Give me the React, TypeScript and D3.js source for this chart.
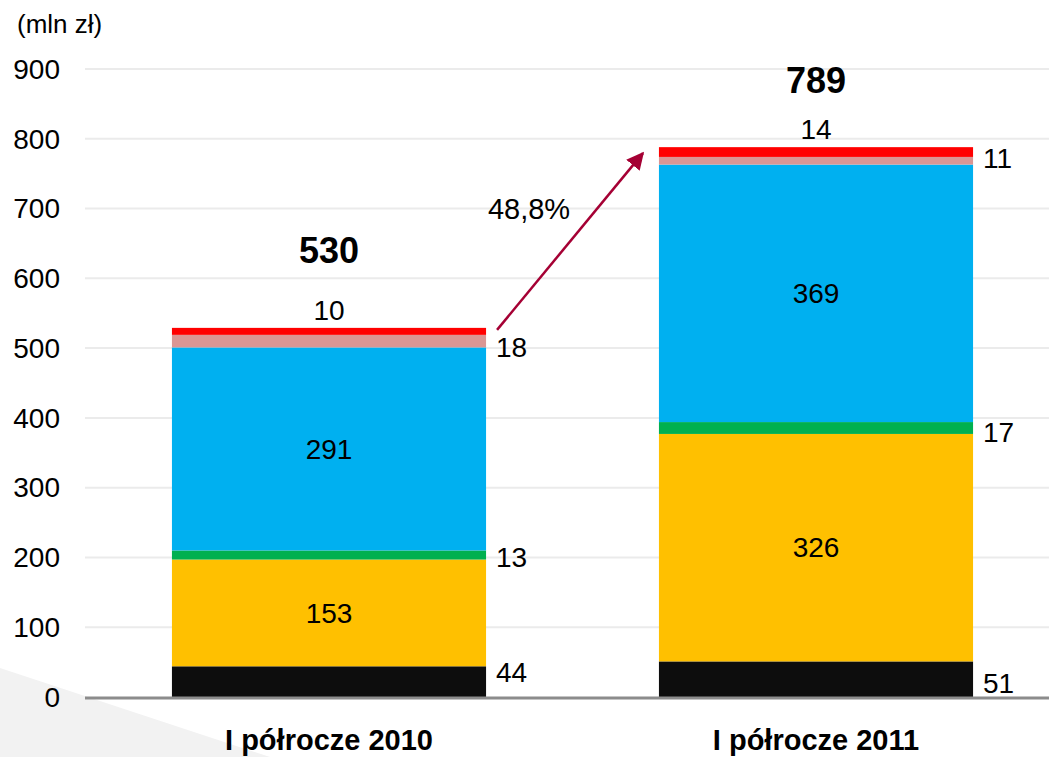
import React, { useEffect, useRef } from 'react';
import * as d3 from 'd3';

// half-year categories and their stacked components (mln zł)
const categories = ['I półrocze 2010', 'I półrocze 2011'];
const segmentKeys = ['black', 'yellow', 'green', 'blue', 'pink', 'red'];
const values2010 = [44, 153, 13, 291, 18, 10];
const values2011 = [51, 326, 17, 369, 11, 14];
const totals = [530, 789];
const yTicks = [0, 100, 200, 300, 400, 500, 600, 700, 800, 900];
const growthLabel = '48,8%';
const unitLabel = '(mln zł)';

const segmentColors = ['#0d0d0d', '#ffc000', '#00b050', '#00b0f0', '#da9694', '#ff0000'];
// where each segment's value label goes
const labelMode = ['right', 'inside', 'right', 'inside', 'right', 'top'];
// small vertical nudges (px) to match the hand-placed labels
const labelNudge = [
  [-9, 0, 2, 0, 6, 0],
  [4, 0, 4, 0, -3, 0],
];
const totalGap = [65, 54];

const W = 1049;
const H = 757;
const FONT = '"Liberation Sans", Arial, sans-serif';

const App: React.FC = () => {
  const svgRef = useRef<SVGSVGElement>(null);

  useEffect(() => {
    if (!svgRef.current) return;
    const svg = d3.select(svgRef.current);
    svg.selectAll('*').remove();

    const series = [values2010, values2011];

    const x = d3.scaleBand<string>().domain(categories).range([85.5, 1059.5])
      .paddingInner(0.355).paddingOuter(0.1775);
    const y = d3.scaleLinear().domain([0, 900]).range([697, 69]);

    svg.append('rect').attr('width', W).attr('height', H).attr('fill', '#ffffff');

    // decorative grey wedge bottom-left
    svg.append('path')
      .attr('d', 'M0,668 L270,757 L0,757 Z')
      .attr('fill', '#f2f2f2');

    // gridlines
    svg.append('g').selectAll('line')
      .data(yTicks.filter(t => t > 0))
      .join('line')
      .attr('x1', 85).attr('x2', W)
      .attr('y1', d => y(d)).attr('y2', d => y(d))
      .attr('stroke', '#ebebeb').attr('stroke-width', 2);

    // tick labels
    svg.append('g').selectAll('text')
      .data(yTicks)
      .join('text')
      .attr('x', 60)
      .attr('y', d => y(d))
      .attr('dy', '0.35em')
      .attr('text-anchor', 'end')
      .attr('font-family', FONT)
      .attr('font-size', 28)
      .attr('fill', '#000')
      .text(d => d);

    svg.append('text')
      .attr('x', 17).attr('y', 33)
      .attr('font-family', FONT).attr('font-size', 26)
      .text(unitLabel);

    // stacked bars
    categories.forEach((cat, ci) => {
      const vals = series[ci];
      const x0 = x(cat)!;
      const bw = x.bandwidth();
      let cum = 0;
      vals.forEach((v, si) => {
        const lo = cum;
        const hi = cum + v;
        cum = hi;
        svg.append('rect')
          .attr('x', x0).attr('width', bw)
          .attr('y', y(hi)).attr('height', y(lo) - y(hi))
          .attr('fill', segmentColors[si])
          .attr('data-key', segmentKeys[si]);

        const mid = y((lo + hi) / 2) + labelNudge[ci][si];
        const t = svg.append('text')
          .attr('font-family', FONT).attr('font-size', 28).attr('fill', '#000')
          .text(v);
        if (labelMode[si] === 'inside') {
          t.attr('x', x0 + bw / 2).attr('y', mid).attr('dy', '0.35em').attr('text-anchor', 'middle');
        } else if (labelMode[si] === 'right') {
          t.attr('x', x0 + bw + 10).attr('y', mid).attr('dy', '0.35em').attr('text-anchor', 'start');
        } else {
          t.attr('x', x0 + bw / 2).attr('y', y(hi) - 8).attr('text-anchor', 'middle');
        }
      });

      // bold total above the bar
      svg.append('text')
        .attr('x', x0 + bw / 2).attr('y', y(cum) - totalGap[ci])
        .attr('text-anchor', 'middle')
        .attr('font-family', FONT).attr('font-size', 36).attr('font-weight', 'bold')
        .text(totals[ci]);

      // category label
      svg.append('text')
        .attr('x', x0 + bw / 2).attr('y', 750)
        .attr('text-anchor', 'middle')
        .attr('font-family', FONT).attr('font-size', 29).attr('font-weight', 'bold')
        .text(cat);
    });

    // axis baseline
    svg.append('line')
      .attr('x1', 85).attr('x2', W)
      .attr('y1', y(0) + 1).attr('y2', y(0) + 1)
      .attr('stroke', '#8c8c8c').attr('stroke-width', 3);

    // growth arrow
    const sum0 = d3.sum(values2010);
    const sum1 = d3.sum(values2011);
    const ax1 = x(categories[0])! + x.bandwidth() + 11;
    const ay1 = y(sum0) + 2;
    const ax2 = x(categories[1])! - 16;
    const ay2 = y(sum1) + 6;
    svg.append('defs').append('marker')
      .attr('id', 'arrowHead')
      .attr('viewBox', '0 0 10 10')
      .attr('refX', 9).attr('refY', 5)
      .attr('markerWidth', 7).attr('markerHeight', 7)
      .attr('markerUnits', 'strokeWidth')
      .attr('orient', 'auto')
      .append('path').attr('d', 'M0,0 L10,5 L0,10 Z').attr('fill', '#a50034');
    svg.append('line')
      .attr('x1', ax1).attr('y1', ay1).attr('x2', ax2).attr('y2', ay2)
      .attr('stroke', '#a50034').attr('stroke-width', 2.5)
      .attr('marker-end', 'url(#arrowHead)');

    svg.append('text')
      .attr('x', 529).attr('y', 219)
      .attr('text-anchor', 'middle')
      .attr('font-family', FONT).attr('font-size', 29)
      .text(growthLabel);
  }, []);

  return (
    <svg
      ref={svgRef}
      width={W}
      height={H}
      viewBox={`0 0 ${W} ${H}`}
      style={{ position: 'absolute', left: 0, top: 0, display: 'block' }}
    />
  );
};

export default App;
